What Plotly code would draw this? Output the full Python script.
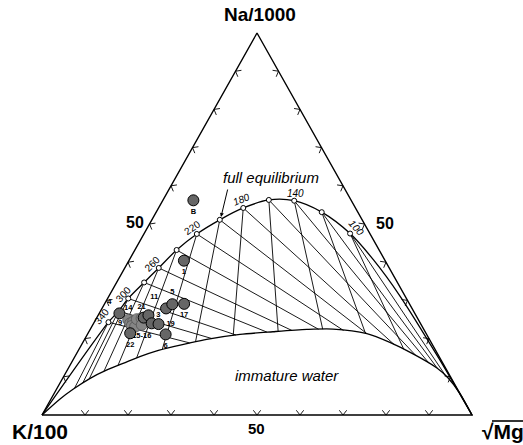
import numpy as np
import plotly.graph_objects as go

# ---------------- data (ternary %, Na/1000 - K/100 - sqrt(Mg)) ----------------
eq_temp = [100, 120, 140, 160, 180, 200, 220, 240, 260, 280, 300, 320, 340]
eq_na = [47.5, 53.1, 56.1, 56.3, 54.2, 51.1, 47.4, 43.2, 38.5, 34.7, 30.5, 27.2, 24.3]
eq_k = [4.6, 8.4, 13.3, 19.1, 26.1, 33.1, 40.3, 47.1, 53.6, 58.9, 64.7, 68.6, 72.4]
eq_mg = [47.9, 38.5, 30.6, 24.6, 19.7, 15.8, 12.3, 9.7, 7.9, 6.4, 4.8, 4.2, 3.3]
eq_labelled = [100, 140, 180, 220, 260, 300, 340]

# continuation of the full-equilibrium line beyond the marked temperatures
eq_low_na = [40.6, 31.4, 15.0, 0.0]
eq_low_k = [2.6, 1.2, 0.3, 0.0]
eq_low_mg = [56.8, 67.4, 84.7, 100.0]
eq_high_na = [0.0]
eq_high_k = [100.0]
eq_high_mg = [0.0]

# boundary of the immature-water field
im_na = [0.0, 4.2, 6.8, 9.6, 11.8, 13.5, 15.3, 16.8, 17.9, 18.9, 19.8, 21.1, 21.8,
         22.4, 22.5, 21.3, 19.0, 16.0, 12.3, 9.7, 5.8, 0.0]
im_k = [100.0, 93.7, 89.3, 84.0, 79.0, 74.4, 69.6, 64.9, 60.5, 56.1, 51.8, 43.4, 35.4,
        27.2, 21.1, 13.8, 9.6, 5.7, 2.0, 0.7, 0.0, 0.0]
im_mg = [0.0, 2.1, 3.9, 6.4, 9.2, 12.1, 15.1, 18.3, 21.6, 25.0, 28.4, 35.5, 42.8,
         50.4, 56.4, 64.9, 71.4, 78.3, 85.7, 89.6, 94.2, 100.0]

# water samples
smp_label = ["B", "1", "4", "11", "5", "17", "", "3", "", "19", "22", "6"]
smp_na = [56.2, 40.4, 26.6, 27.9, 29.0, 29.1, 25.5, 26.1, 24.0, 23.8, 21.4, 21.1]
smp_k = [36.7, 46.8, 68.7, 57.2, 55.2, 52.4, 63.6, 62.2, 62.5, 61.0, 68.8, 60.7]
smp_mg = [7.1, 12.8, 4.7, 14.9, 15.8, 18.5, 10.9, 11.7, 13.5, 15.2, 9.8, 18.2]

# overlapping cluster of samples
cl_label = ["14", "9", "", "", "", "", "", "21", "15-16"]
cl_na = [24.9, 24.0, 24.4, 23.3, 24.2, 23.1, 25.1, 25.3, 23.6]
cl_k = [67.5, 67.5, 66.6, 67.5, 65.5, 66.8, 65.4, 64.2, 65.0]
cl_mg = [7.6, 8.5, 9.0, 9.2, 10.3, 10.1, 9.5, 10.5, 11.4]

corner_titles = ["Na/1000", "K/100", "√Mg"]
edge_ticks = [10, 20, 30, 40, 50, 60, 70, 80, 90]

# ---------------- helpers ----------------
W, H = 523, 445
XR = [-0.0977, 1.1186]
YR = [-0.0785, 1.0864]
SX = W / (XR[1] - XR[0])
SY = H / (YR[1] - YR[0])
FONT = "Liberation Sans, Arial"


def txy(na, k, mg):
    na, k, mg = (np.asarray(v, dtype=float) for v in (na, k, mg))
    s = na + k + mg
    return (mg + na / 2) / s, na / s


def ray_hit(p, d, poly):
    best = None
    for i in range(len(poly) - 1):
        a, b = poly[i], poly[i + 1]
        e = b - a
        m = np.array([[d[0], -e[0]], [d[1], -e[1]]])
        det = np.linalg.det(m)
        if abs(det) < 1e-12:
            continue
        t, u = np.linalg.solve(m, a - p)
        if t > 1e-6 and -1e-9 <= u <= 1 + 1e-9:
            if best is None or t < best:
                best = t
    return p + best * d if best is not None else None


NA_V = np.array([0.5, 1.0])
K_V = np.array([0.0, 0.0])
MG_V = np.array([1.0, 0.0])

ex, ey = txy(eq_na, eq_k, eq_mg)
ix, iy = txy(im_na, im_k, im_mg)
imm = np.column_stack([ix, iy])

# construction lines (K/Mg lines toward Na apex, Na/K lines toward sqrt(Mg))
gx, gy = [], []
for x0, y0 in zip(ex, ey):
    p = np.array([x0, y0])
    for d in (p - NA_V, MG_V - p):
        q = ray_hit(p, d, imm)
        if q is not None:
            gx += [x0, q[0], None]
            gy += [y0, q[1], None]

fig = go.Figure()
fig.add_trace(go.Scatter(x=gx, y=gy, mode="lines",
                         line=dict(color="black", width=0.9), hoverinfo="skip"))

# equilibrium curve (high-T end -> marked points -> low-T end)
hx, hy = txy(eq_high_na, eq_high_k, eq_high_mg)
lx, ly = txy(eq_low_na, eq_low_k, eq_low_mg)
cx = list(hx) + list(ex[::-1]) + list(lx)
cy = list(hy) + list(ey[::-1]) + list(ly)
fig.add_trace(go.Scatter(x=cx, y=cy, mode="lines",
                         line=dict(color="black", width=1.3, shape="spline", smoothing=0.8)))

# immature water boundary
fig.add_trace(go.Scatter(x=ix, y=iy, mode="lines",
                         line=dict(color="black", width=1.3, shape="spline", smoothing=0.8)))

# triangle
fig.add_trace(go.Scatter(x=[K_V[0], MG_V[0], NA_V[0], K_V[0]], y=[K_V[1], MG_V[1], NA_V[1], K_V[1]],
                         mode="lines", line=dict(color="black", width=1.4)))

# chevron ticks on edges
cen = (K_V + MG_V + NA_V) / 3
tx, ty = [], []
L, th = 6.0, np.radians(38)
for a, b in ((K_V, MG_V), (K_V, NA_V), (MG_V, NA_V)):
    A = np.array([a[0] * SX, a[1] * SY])
    B = np.array([b[0] * SX, b[1] * SY])
    C = np.array([cen[0] * SX, cen[1] * SY])
    d = (B - A) / np.linalg.norm(B - A)
    n = np.array([-d[1], d[0]])
    if np.dot(C - A, n) < 0:
        n = -n
    for v in edge_ticks:
        E = A + (B - A) * v / 100
        for s in (1, -1):
            Q = E + L * (np.cos(th) * n + s * np.sin(th) * d)
            tx += [E[0] / SX, Q[0] / SX, None]
            ty += [E[1] / SY, Q[1] / SY, None]
fig.add_trace(go.Scatter(x=tx, y=ty, mode="lines", line=dict(color="black", width=0.9)))

# equilibrium temperature markers
fig.add_trace(go.Scatter(x=ex, y=ey, mode="markers",
                         marker=dict(symbol="circle", size=5, color="white",
                                     line=dict(color="black", width=1))))

# samples
pos = {"B": "bottom center", "1": "bottom center", "4": "top left", "11": "top left",
       "5": "top center", "17": "bottom center", "21": "top center", "3": "middle right",
       "19": "middle right", "22": "bottom center", "6": "bottom center", "14": "top center",
       "9": "middle left", "15-16": "bottom center", "": "top center"}
tfont = dict(family=FONT, size=7.5, color="#000000", weight="bold")
clx, cly = txy(cl_na, cl_k, cl_mg)
fig.add_trace(go.Scatter(x=clx, y=cly, mode="markers+text", text=cl_label,
                         textposition=[pos[t] for t in cl_label], textfont=tfont,
                         marker=dict(size=11, color="#858585", line=dict(color="#555555", width=0.8))))
sx_, sy_ = txy(smp_na, smp_k, smp_mg)
fig.add_trace(go.Scatter(x=sx_, y=sy_, mode="markers+text", text=smp_label,
                         textposition=[pos[t] for t in smp_label], textfont=tfont,
                         marker=dict(size=11, color="#666666", line=dict(color="black", width=1))))

# temperature labels along the equilibrium line
tshift = {100: (6, 6, 48), 140: (1, 7, 0), 180: (-2, 8, -22), 220: (-4, 6, -35),
          260: (-6, 4, -45), 300: (-5, 4, -48), 340: (-7, 6, -52)}
ann = []
for t in eq_labelled:
    i = eq_temp.index(t)
    dx, dy, ang = tshift[t]
    ann.append(dict(x=ex[i], y=ey[i], xref="x", yref="y", text=str(t), showarrow=False,
                    xshift=dx, yshift=dy, textangle=ang,
                    font=dict(family=FONT, size=10, color="#000000",
                              style="italic" if t <= 180 else "normal")))


def pp(xp, yp):
    return xp / W, 1 - yp / H


def add_text(xp, yp, text, size, bold=False, italic=False, xanchor="center"):
    x, y = pp(xp, yp)
    ann.append(dict(x=x, y=y, xref="paper", yref="paper", text=text, showarrow=False,
                    xanchor=xanchor, yanchor="middle",
                    font=dict(family=FONT, size=size, color="#000000",
                              weight="bold" if bold else "normal",
                              style="italic" if italic else "normal")))


add_text(260, 15, corner_titles[0], 19, bold=True)
add_text(40, 431, corner_titles[1], 21, bold=True)
add_text(480, 431, corner_titles[2], 21, bold=True, xanchor="left")
add_text(135, 222, "50", 16, bold=True)
add_text(385, 223, "50", 16, bold=True)
add_text(256, 428, "50", 15, bold=True)
add_text(271, 177, "full equilibrium", 15, italic=True)
add_text(287, 375, "immature water", 15, italic=True)

ax_, ay_ = pp(221, 217)
ann.append(dict(x=ax_, y=ay_, xref="paper", yref="paper", text="", showarrow=True,
                ax=7, ay=-29, arrowhead=2, arrowsize=0.8, arrowwidth=1, arrowcolor="black"))

# overbar of the square-root sign
ob0, oby = pp(492, 421)
ob1, _ = pp(523, 421)
shapes = [dict(type="line", xref="paper", yref="paper", x0=ob0, x1=ob1, y0=oby, y1=oby,
               line=dict(color="black", width=1.6))]

fig.update_layout(
    width=W, height=H, margin=dict(l=0, r=0, t=0, b=0),
    paper_bgcolor="white", plot_bgcolor="white", showlegend=False,
    xaxis=dict(range=XR, visible=False, fixedrange=True),
    yaxis=dict(range=YR, visible=False, fixedrange=True),
    annotations=ann, shapes=shapes,
)
fig.write_html("out.html")
